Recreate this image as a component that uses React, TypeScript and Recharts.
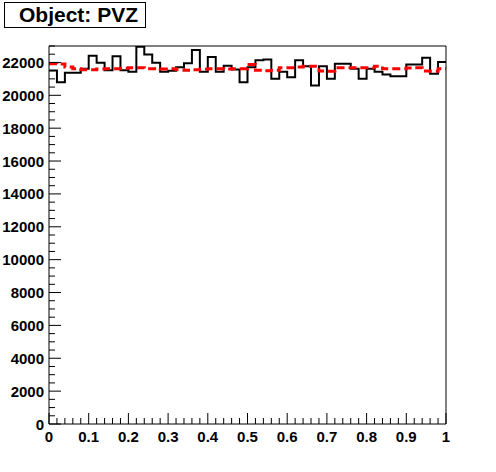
import { ComposedChart, Line, XAxis, YAxis } from "recharts";

// bin low edges (50 bins of width 0.02) plus the upper edge of the last bin
const binEdges = [
  0, 0.02, 0.04, 0.06, 0.08, 0.1, 0.12, 0.14, 0.16, 0.18,
  0.2, 0.22, 0.24, 0.26, 0.28, 0.3, 0.32, 0.34, 0.36, 0.38,
  0.4, 0.42, 0.44, 0.46, 0.48, 0.5, 0.52, 0.54, 0.56, 0.58,
  0.6, 0.62, 0.64, 0.66, 0.68, 0.7, 0.72, 0.74, 0.76, 0.78,
  0.8, 0.82, 0.84, 0.86, 0.88, 0.9, 0.92, 0.94, 0.96, 0.98, 1,
];

// black histogram (entries per bin)
const pvzCounts = [
  21510, 20800, 21370, 21370, 21610, 22400, 21980, 21530, 22380, 21530,
  21430, 22950, 22480, 21980, 21430, 21500, 21700, 21950, 22750, 21430,
  22330, 21430, 21800, 21570, 20800, 21700, 22140, 22180, 21000, 21430,
  21100, 22140, 21770, 20600, 21770, 21000, 21920, 21920, 21610, 21000,
  21610, 21430, 21270, 21160, 21160, 21880, 21880, 22290, 21310, 22020,
];

// red dashed reference
const pvzReference = [
  21920, 21900, 21720, 21620, 21560, 21560, 21600, 21620, 21620, 21640,
  21680, 21680, 21620, 21620, 21600, 21620, 21560, 21530, 21560, 21590,
  21620, 21620, 21600, 21620, 21620, 21880, 21530, 21500, 21530, 21680,
  21680, 21720, 21770, 21770, 21480, 21470, 21680, 21680, 21680, 21670,
  21670, 21770, 21620, 21620, 21620, 21660, 21680, 21480, 21470, 21620,
];

const xTicks = binEdges;
const xLabels = [0, 0.1, 0.2, 0.3, 0.4, 0.5, 0.6, 0.7, 0.8, 0.9, 1];

const yTicks = [
  0, 500, 1000, 1500, 2000, 2500, 3000, 3500, 4000, 4500, 5000, 5500,
  6000, 6500, 7000, 7500, 8000, 8500, 9000, 9500, 10000, 10500, 11000, 11500,
  12000, 12500, 13000, 13500, 14000, 14500, 15000, 15500, 16000, 16500, 17000, 17500,
  18000, 18500, 19000, 19500, 20000, 20500, 21000, 21500, 22000, 22500, 23000,
];
const yLabels = [0, 2000, 4000, 6000, 8000, 10000, 12000, 14000, 16000, 18000, 20000, 22000];

const data = binEdges.map((x, i) => ({
  x,
  counts: pvzCounts[Math.min(i, pvzCounts.length - 1)],
  reference: pvzReference[Math.min(i, pvzReference.length - 1)],
}));

const font = "'Liberation Sans', Arial, sans-serif";

const isLabel = (list: number[], v: number) => list.some((l) => Math.abs(l - v) < 1e-6);

// ROOT style: ticks point inwards, labels outside
function XTick(props: any) {
  const { x, y, payload } = props;
  const major = isLabel(xLabels, payload.value);
  return (
    <g>
      <line x1={x} y1={y} x2={x} y2={y - (major ? 11 : 6)} stroke="#000" strokeWidth={1} />
      {major && (
        <text x={x} y={y + 18} textAnchor="middle" fontFamily={font} fontWeight="bold" fontSize={15} fill="#000">
          {String(payload.value)}
        </text>
      )}
    </g>
  );
}

function YTick(props: any) {
  const { x, y, payload } = props;
  const major = isLabel(yLabels, payload.value);
  return (
    <g>
      <line x1={x} y1={y} x2={x + (major ? 12 : 6)} y2={y} stroke="#000" strokeWidth={1} />
      {major && (
        <text x={x - 5} y={y + 5.5} textAnchor="end" fontFamily={font} fontWeight="bold" fontSize={15} fill="#000">
          {String(payload.value)}
        </text>
      )}
    </g>
  );
}

export default function App() {
  return (
    <div style={{ position: "relative", width: 496, height: 472, background: "#fff" }}>
      <style>{`body{margin:0}`}</style>
      <ComposedChart
        width={496}
        height={472}
        data={data}
        margin={{ top: 45, right: 49, bottom: 47, left: 48 }}
      >
        <XAxis
          dataKey="x"
          type="number"
          domain={[0, 1]}
          ticks={xTicks}
          interval={0}
          height={1}
          tickSize={0}
          tickMargin={0}
          tickLine={false}
          tick={<XTick />}
          axisLine={{ stroke: "#000" }}
        />
        <XAxis
          xAxisId="top"
          orientation="top"
          type="number"
          dataKey="x"
          domain={[0, 1]}
          height={1}
          tick={false}
          tickLine={false}
          axisLine={{ stroke: "#000" }}
        />
        <YAxis
          type="number"
          domain={[0, 23000]}
          ticks={yTicks}
          interval={0}
          width={1}
          tickSize={0}
          tickMargin={0}
          tickLine={false}
          tick={<YTick />}
          axisLine={{ stroke: "#000" }}
          allowDataOverflow
        />
        <YAxis
          yAxisId="right"
          orientation="right"
          type="number"
          domain={[0, 23000]}
          width={1}
          tick={false}
          tickLine={false}
          axisLine={{ stroke: "#000" }}
        />
        <Line
          type="stepAfter"
          dataKey="counts"
          stroke="#000"
          strokeWidth={2}
          dot={false}
          isAnimationActive={false}
        />
        <Line
          type="stepAfter"
          dataKey="reference"
          stroke="#ff0000"
          strokeWidth={3}
          strokeDasharray="8 4"
          dot={false}
          isAnimationActive={false}
        />
      </ComposedChart>
      <div
        style={{
          position: "absolute",
          left: 4,
          top: 2,
          width: 142,
          height: 26,
          border: "1px solid #000",
          boxSizing: "border-box",
          fontFamily: font,
          fontWeight: "bold",
          fontSize: 21,
          lineHeight: "24px",
          paddingLeft: 14,
          color: "#000",
          background: "#fff",
        }}
      >
        Object: PVZ
      </div>
    </div>
  );
}
